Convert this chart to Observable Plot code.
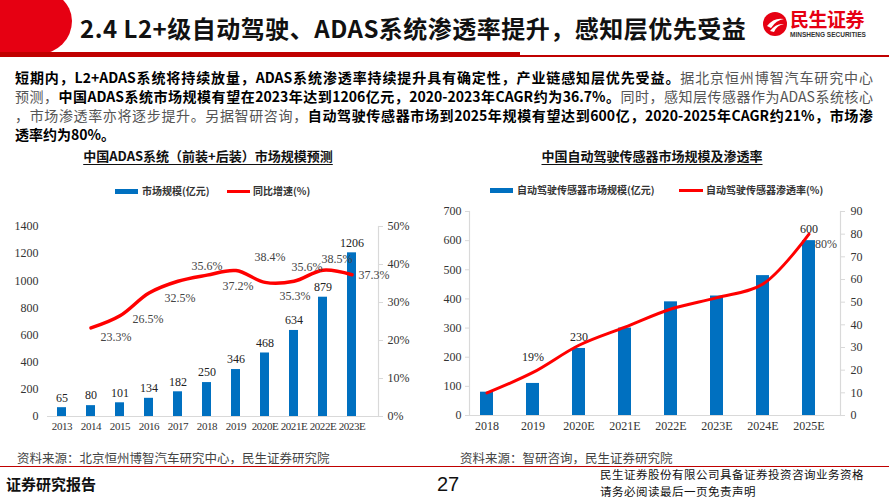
<!DOCTYPE html>
<html>
<head>
<meta charset="utf-8">
<script src="https://cdn.jsdelivr.net/npm/d3@7"></script>
<script src="https://cdn.jsdelivr.net/npm/@observablehq/plot@0.6"></script>
<style>
  html,body{margin:0;padding:0;background:#fff;}
  #page{position:relative;width:889px;height:500px;overflow:hidden;background:#fff;font-family:"Noto Sans CJK SC","Noto Sans",sans-serif;}
  .abs{position:absolute;white-space:nowrap;}
  .body-line{position:absolute;left:15px;width:858px;font-size:14px;line-height:18px;white-space:nowrap;text-align:justify;text-align-last:justify;color:#555;}
  .body-line b{color:#000;font-weight:700;}
  .ctitle{position:absolute;font-size:13px;font-weight:700;text-decoration:underline;text-underline-offset:3px;color:#111;white-space:nowrap;transform:translateX(-50%);}
  .leg{position:absolute;font-size:10px;font-weight:700;color:#333;white-space:nowrap;line-height:12px;}
  .sw{position:absolute;}
  .chart{position:absolute;}
</style>
</head>
<body>
<div id="page">
  <!-- header -->
  <div class="abs" style="left:-40px;top:-12px;width:112px;height:66px;background:#e60012;border-radius:0 40px 34px 0 / 0 34px 34px 0;"></div>
  <div class="abs" style="left:0;top:52px;width:520px;height:5px;background:#c00000;"></div>
  <div class="abs" style="left:520px;top:55px;width:369px;height:2px;background:#c00000;"></div>
  <div class="abs" style="left:80px;top:12px;font-size:24px;line-height:32px;font-weight:700;color:#111;letter-spacing:0.5px;">2.4 L2+级自动驾驶、ADAS系统渗透率提升，感知层优先受益</div>
  <svg class="abs" style="left:762px;top:11px;" width="26" height="26" viewBox="0 0 26 26">
    <circle cx="13" cy="13" r="12" fill="#e60012"/>
    <path d="M5 15 Q12 6 22 8 Q14 9 9 17 Z" fill="#fff"/>
    <path d="M8 20 Q14 12 22 13 Q15 14 12 21 Z" fill="#fff"/>
  </svg>
  <div class="abs" style="left:790px;top:8px;font-size:19px;line-height:22px;font-weight:700;color:#e60012;letter-spacing:-0.5px;">民生证券</div>
  <div class="abs" style="left:790px;top:31px;font-size:6.5px;line-height:7px;font-weight:700;color:#333;font-family:'Liberation Sans',sans-serif;">MINSHENG SECURITIES</div>

  <!-- body text -->
  <div class="body-line" style="top:68px;"><b>短期内，L2+ADAS系统将持续放量，ADAS系统渗透率持续提升具有确定性，产业链感知层优先受益。</b>据北京恒州博智汽车研究中心</div>
  <div class="body-line" style="top:87px;">预测，<b>中国ADAS系统市场规模有望在2023年达到1206亿元，2020-2023年CAGR约为36.7%。</b>同时，感知层传感器作为ADAS系统核心</div>
  <div class="body-line" style="top:106px;">，市场渗透率亦将逐步提升。另据智研咨询，<b>自动驾驶传感器市场到2025年规模有望达到600亿，2020-2025年CAGR约21%，市场渗</b></div>
  <div class="body-line" style="top:125px;text-align:left;text-align-last:left;width:auto;"><b>透率约为80%。</b></div>

  <!-- chart titles -->
  <div class="ctitle" style="left:208px;top:146px;">中国ADAS系统（前装+后装）市场规模预测</div>
  <div class="ctitle" style="left:652px;top:146px;">中国自动驾驶传感器市场规模及渗透率</div>

  <!-- legends -->
  <div class="sw" style="left:115px;top:189px;width:23px;height:5px;background:#0070C0;"></div>
  <div class="leg" style="left:142px;top:185px;">市场规模(亿元)</div>
  <div class="sw" style="left:227px;top:190px;width:23px;height:3px;background:#FF0000;"></div>
  <div class="leg" style="left:253px;top:185px;">同比增速(%)</div>

  <div class="sw" style="left:490px;top:188px;width:23px;height:5px;background:#0070C0;"></div>
  <div class="leg" style="left:517px;top:184px;">自动驾驶传感器市场规模(亿元)</div>
  <div class="sw" style="left:679px;top:189px;width:24px;height:3px;background:#FF0000;"></div>
  <div class="leg" style="left:706px;top:184px;">自动驾驶传感器渗透率(%)</div>

  <div id="c1" class="chart" style="left:0px;top:215px;"></div>
  <div id="c2" class="chart" style="left:440px;top:200px;"></div>

  <!-- footer -->
  <div class="abs" style="left:17px;top:450px;font-size:12.5px;line-height:15px;color:#444;">资料来源：北京恒州博智汽车研究中心，民生证券研究院</div>
  <div class="abs" style="left:460px;top:450px;font-size:12.5px;line-height:15px;color:#444;">资料来源：智研咨询，民生证券研究院</div>
  <div class="abs" style="left:0;top:466px;width:889px;height:1px;background:#c00000;"></div>
  <div class="abs" style="left:6px;top:474px;font-size:15px;line-height:20px;font-weight:700;color:#111;">证券研究报告</div>
  <div class="abs" style="left:437px;top:472px;font-size:20px;line-height:24px;color:#111;font-family:'Liberation Sans Narrow','Liberation Sans',sans-serif;">27</div>
  <div class="abs" style="left:600px;top:467px;font-size:11.5px;line-height:15px;letter-spacing:0.5px;color:#111;">民生证券股份有限公司具备证券投资咨询业务资格</div>
  <div class="abs" style="left:600px;top:484px;font-size:11.5px;line-height:15px;letter-spacing:0.5px;color:#111;">请务必阅读最后一页免责声明</div>
</div>

<script>
// ---------- data ----------
const adasYears = ["2013","2014","2015","2016","2017","2018","2019","2020E","2021E","2022E","2023E"];
const adasSize = [65, 80, 101, 134, 182, 250, 346, 468, 634, 879, 1206];
const adasGrowth = [null, 23.3, 26.5, 32.5, 35.6, 37.2, 38.4, 35.3, 35.6, 38.5, 37.3];
const adasLeftTicks = [0, 200, 400, 600, 800, 1000, 1200, 1400];
const adasRightTicks = [0, 10, 20, 30, 40, 50];

const sensorYears = ["2018","2019","2020E","2021E","2022E","2023E","2024E","2025E"];
const sensorSize = [80, 110, 230, 300, 390, 410, 480, 600];
const sensorRate = [10, 19, 31, 39, 47, 52, 58, 80];
const sensorLeftTicks = [0, 100, 200, 300, 400, 500, 600, 700];
const sensorRightTicks = [0, 10, 20, 30, 40, 50, 60, 70, 80, 90];
const sensorBarLabels = ["2020E", "2025E"];
const sensorRateLabels = ["2019", "2025E"];

// ---------- build tables ----------
const adas = adasYears.map((y, i) => ({year: y, size: adasSize[i], growth: adasGrowth[i]}));
const sensor = sensorYears.map((y, i) => ({year: y, size: sensorSize[i], rate: sensorRate[i]}));

const BLUE = "#0070C0", RED = "#FF0000", AXIS = "#d9d9d9";
const tickStyle = {fontFamily: "'Liberation Serif','DejaVu Serif',serif", fontSize: "12px", color: "#333", background: "transparent", overflow: "visible"};

// ---------- chart 1 ----------
const k1 = 1400 / 50;
// label placement (style only): dx, dy in px relative to the point
const growthLabelShift = [null, [25, 9], [28, 3], [31, 5], [29, -15], [31, 11], [34, -13], [30, 14], [13, -14], [14, -11], [22, 0]];
const growthMarks = adas.map((d, i) => d.growth == null ? null :
  Plot.text([d], {x: "year", y: v => v.growth * k1, text: v => v.growth.toFixed(1) + "%",
    dx: growthLabelShift[i][0], dy: growthLabelShift[i][1], fill: "#444", fontSize: 12})).filter(Boolean);

const c1 = Plot.plot({
  width: 440, height: 225,
  marginLeft: 47, marginRight: 62, marginTop: 11, marginBottom: 24,
  style: tickStyle,
  x: {type: "band", domain: adasYears, paddingInner: 0.7, paddingOuter: 0.2, insetLeft: 1, insetRight: 14, label: null},
  y: {domain: [0, 1400], label: null},
  marks: [
    Plot.ruleY([0], {stroke: AXIS, strokeWidth: 1.2}),
    Plot.frame({anchor: "right", stroke: AXIS, strokeWidth: 1.2}),
    Plot.barY(adas, {x: "year", y: "size", fill: BLUE}),
    Plot.text(adas, {x: "year", y: "size", text: d => String(d.size), dy: -10, fill: "#222", fontSize: 12}),
    Plot.line(adas.filter(d => d.growth != null), {x: "year", y: d => d.growth * k1, stroke: RED, strokeWidth: 3.5, curve: "catmull-rom"}),
    ...growthMarks,
    Plot.axisX({tickSize: 0, tickPadding: 6, fill: "#333", fontSize: 11}),
    Plot.axisY(adasLeftTicks, {anchor: "left", tickSize: 0, tickPadding: 9, fill: "#333", tickFormat: v => String(v)}),
    Plot.axisY(adasRightTicks.map(v => v * k1), {anchor: "right", tickSize: 4, tickPadding: 5, stroke: AXIS, fill: "#333", tickFormat: v => Math.round(v / k1) + "%"})
  ]
});
d3.select(c1).selectAll('g[aria-label="x-axis tick label"]').style("letter-spacing", "-0.4px");
document.getElementById("c1").appendChild(c1);

// ---------- chart 2 ----------
const k2 = 700 / 90;
const c2 = Plot.plot({
  width: 449, height: 240,
  marginLeft: 29, marginRight: 49, marginTop: 11, marginBottom: 25,
  style: tickStyle,
  x: {type: "band", domain: sensorYears, paddingInner: 0.72, paddingOuter: 0.2, insetLeft: 1, insetRight: 16, label: null},
  y: {domain: [0, 700], label: null},
  marks: [
    Plot.ruleY([0], {stroke: AXIS, strokeWidth: 1.2}),
    Plot.frame({anchor: "left", stroke: AXIS, strokeWidth: 1.2}),
    Plot.frame({anchor: "right", stroke: AXIS, strokeWidth: 1.2}),
    Plot.barY(sensor, {x: "year", y: "size", fill: BLUE}),
    Plot.text(sensor.filter(d => sensorBarLabels.includes(d.year)), {x: "year", y: "size", text: d => String(d.size), dy: -11, fill: "#222", fontSize: 12}),
    Plot.line(sensor, {x: "year", y: d => d.rate * k2, stroke: RED, strokeWidth: 3, curve: "catmull-rom"}),
    Plot.text(sensor.filter(d => d.year === sensorRateLabels[0]), {x: "year", y: d => d.rate * k2, text: d => d.rate + "%", dy: -15, fill: "#222", fontSize: 12}),
    Plot.text(sensor.filter(d => d.year === sensorRateLabels[1]), {x: "year", y: d => d.rate * k2, text: d => d.rate + "%", dx: 17, dy: 10, fill: "#444", fontSize: 12}),
    Plot.axisX({tickSize: 0, tickPadding: 6, fill: "#333"}),
    Plot.axisY(sensorLeftTicks, {anchor: "left", tickSize: 4, tickPadding: 4, stroke: AXIS, fill: "#333", tickFormat: v => String(v)}),
    Plot.axisY(sensorRightTicks.map(v => v * k2), {anchor: "right", tickSize: 4, tickPadding: 6, stroke: AXIS, fill: "#333", tickFormat: v => String(Math.round(v / k2))})
  ]
});
document.getElementById("c2").appendChild(c2);
</script>
</body>
</html>
